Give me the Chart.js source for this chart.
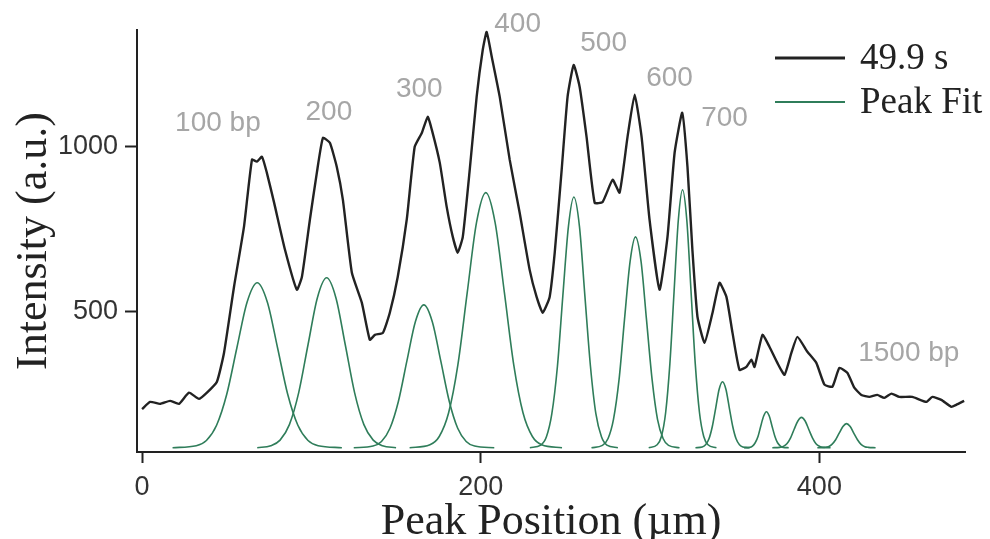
<!DOCTYPE html>
<html>
<head>
<meta charset="utf-8">
<script src="https://cdn.jsdelivr.net/npm/chart.js@4.4.1/dist/chart.umd.min.js"></script>
<style>
  html, body { margin: 0; padding: 0; background: #fff; }
  #wrap { width: 990px; height: 539px; }
</style>
</head>
<body>
<div id="wrap"><canvas id="chart" width="990" height="539"></canvas></div>
<script>
// measured trace, [position µm, intensity a.u.]
const signal = [
    [0, 205], [4.7, 227], [10.6, 221], [16.5, 230], [21.8, 221], [27.7, 255], [33.6, 236], [38.3, 255],
    [44.2, 288], [48.4, 376], [54.3, 576], [60.2, 758], [64.9, 961], [67.8, 955], [70.8, 970], [73.7, 921],
    [78, 830], [84.4, 688], [91.4, 567], [94.4, 606], [99.1, 779], [103.2, 921], [106.8, 1027], [110.9, 1012],
    [115, 939], [118.6, 839], [123.9, 618], [129.8, 527], [134.5, 415], [137.5, 430], [142.2, 436], [146.3, 497],
    [151, 606], [156.3, 779], [161, 1000], [165.2, 1042], [168.7, 1091], [171.1, 1052], [175.8, 952], [179.9, 818],
    [183.5, 727], [186.4, 679], [189.4, 727], [193.5, 930], [197.6, 1152], [201.2, 1294], [203.5, 1348], [206.5, 1273],
    [211.2, 1152], [217.1, 961], [223, 800], [228.9, 627], [233, 545], [236.6, 497], [240.7, 545], [243.7, 679],
    [247.8, 930], [251.3, 1152], [254.9, 1248], [258.4, 1182], [262.5, 1030], [267.3, 830], [272, 833], [277.9, 900],
    [282, 861], [286.7, 1030], [290.9, 1158], [295, 1030], [299.7, 779], [305.6, 567], [310.3, 727], [314.5, 982],
    [319, 1103], [322.1, 939], [325, 688], [328, 485], [332.2, 406], [336.9, 497], [341, 588], [345.1, 545],
    [348.7, 436], [352.8, 324], [356.9, 333], [359.9, 355], [361.7, 333], [366.4, 430], [370.5, 394], [375.2, 345],
    [379.4, 309], [383.5, 376], [387, 424], [392.9, 379], [398.2, 345], [403, 279], [407.7, 273], [411.8, 330],
    [416.5, 315], [420.6, 270], [424.8, 248], [429.5, 242], [434.2, 248], [438.3, 239], [442.5, 252], [447.2, 242],
    [454.9, 242], [463.1, 227], [466.7, 242], [472, 233], [477.9, 212], [480.8, 218], [485.5, 230]
];

// fitted peaks, one row per band
const fitX = [
    [18, 32, 38, 44, 50, 56, 62, 68, 74, 80, 86, 92, 98, 104, 118],
    [68, 76, 81.5, 87, 92.5, 98, 103.5, 109, 114.5, 120, 125.5, 131, 136.5, 142, 150],
    [125, 136.4, 141.4, 146.4, 151.4, 156.4, 161.4, 166.4, 171.4, 176.4, 181.4, 186.4, 191.4, 196.4, 208],
    [158, 170, 175.5, 181, 186.5, 192, 197.5, 203, 208.5, 214, 219.5, 225, 230.5, 236, 248],
    [229, 235.5, 238.8, 242, 245.3, 248.5, 251.8, 255, 258.3, 261.5, 264.8, 268, 271.3, 274.5, 281],
    [265.4, 271.9, 275.2, 278.4, 281.7, 284.9, 288.2, 291.4, 294.7, 297.9, 301.2, 304.4, 307.7, 310.9, 317.4],
    [299.2, 304.2, 306.7, 309.2, 311.7, 314.2, 316.7, 319.2, 321.7, 324.2, 326.7, 329.2, 331.7, 334.2, 339.2],
    [326.8, 330.8, 332.8, 334.8, 336.8, 338.8, 340.8, 342.8, 344.8, 346.8, 348.8, 350.8, 352.8, 354.8, 358.8],
    [355.5, 358.8, 360.5, 362.1, 363.8, 365.4, 367.1, 368.7, 370.4, 372, 373.7, 375.3, 377, 378.6, 381.9],
    [372.2, 376.5, 378.7, 380.8, 383, 385.1, 387.3, 389.4, 391.6, 393.7, 395.9, 398, 400.2, 402.3, 406.6],
    [398.8, 403.1, 405.3, 407.4, 409.6, 411.7, 413.9, 416, 418.2, 420.3, 422.5, 424.6, 426.8, 428.9, 433.2]
];
const fitY = [
    [88, 94, 110, 156, 250, 391, 529, 588, 529, 391, 250, 156, 110, 94, 88],
    [88, 94, 111, 158, 255, 400, 542, 603, 542, 400, 255, 158, 111, 94, 88],
    [88, 93, 107, 147, 229, 351, 470, 521, 470, 351, 229, 147, 107, 93, 88],
    [88, 97, 122, 193, 339, 557, 770, 861, 770, 557, 339, 193, 122, 97, 88],
    [88, 96, 121, 191, 335, 549, 759, 848, 759, 549, 335, 191, 121, 96, 88],
    [88, 95, 116, 174, 295, 476, 652, 727, 652, 476, 295, 174, 116, 95, 88],
    [88, 97, 122, 194, 342, 562, 778, 870, 778, 562, 342, 194, 122, 97, 88],
    [88, 90, 97, 115, 153, 209, 265, 288, 265, 209, 153, 115, 97, 90, 88],
    [88, 89, 93, 103, 123, 154, 184, 197, 184, 154, 123, 103, 93, 89, 88],
    [88, 89, 92, 100, 118, 144, 169, 180, 169, 144, 118, 100, 92, 89, 88],
    [88, 89, 91, 98, 112, 132, 152, 161, 152, 132, 112, 98, 91, 89, 88]
];

// band size labels and where they sit (data units)
const bandLabels = ['100 bp', '200', '300', '400', '500', '600', '700', '1500 bp'];
const bandLabelX = [44.8, 110.3, 163.7, 221.8, 272.6, 311.5, 344, 452.8];
const bandLabelY = [1070, 1106, 1173, 1370, 1315, 1209, 1085, 373];

const xTicks = [0, 200, 400];
const yTicks = [500, 1000];

const traceColor = '#222222';
const fitColor = '#2f7d5a';
const labelGray = '#a6a6a6';
const axisColor = '#222222';

function build_datasets() {
    const sets = [{
        label: '49.9 s',
        data: signal.map(p => ({ x: p[0], y: p[1] })),
        borderColor: traceColor,
        borderWidth: 2.4,
        pointRadius: 0,
        tension: 0.15
    }];
    fitX.forEach((xs, i) => {
        sets.push({
            label: i == 0 ? 'Peak Fit' : '',
            data: xs.map((x, j) => ({ x: x, y: fitY[i][j] })),
            borderColor: fitColor,
            borderWidth: 1.6,
            pointRadius: 0,
            cubicInterpolationMode: 'monotone'
        });
    });
    return sets;
}

const bandLabelPlugin = {
    id: 'bandLabels',
    afterDatasetsDraw(chart) {
        const ctx = chart.ctx;
        const xs = chart.scales.x;
        const ys = chart.scales.y;
        ctx.save();
        ctx.font = '28px "Liberation Sans", Arial, sans-serif';
        ctx.fillStyle = labelGray;
        ctx.textAlign = 'center';
        ctx.textBaseline = 'middle';
        bandLabels.forEach((t, i) => {
            ctx.fillText(t, xs.getPixelForValue(bandLabelX[i]), ys.getPixelForValue(bandLabelY[i]));
        });
        ctx.restore();
    }
};

// simple legend in the top right corner
const legendPlugin = {
    id: 'cornerLegend',
    afterDraw(chart) {
        const ctx = chart.ctx;
        const entries = [
            { text: chart.data.datasets[0].label, color: traceColor, width: 3, y: 58 },
            { text: chart.data.datasets[1].label, color: fitColor, width: 2.2, y: 102 }
        ];
        ctx.save();
        ctx.font = '37px "Liberation Serif", "Times New Roman", serif';
        ctx.textAlign = 'left';
        ctx.textBaseline = 'middle';
        for (const e of entries) {
            ctx.strokeStyle = e.color;
            ctx.lineWidth = e.width;
            ctx.beginPath();
            ctx.moveTo(775, e.y);
            ctx.lineTo(845, e.y);
            ctx.stroke();
            ctx.fillStyle = '#222';
            ctx.fillText(e.text, 860, e.y + 1);
        }
        ctx.restore();
    }
};

const ctx = document.getElementById('chart').getContext('2d');
new Chart(ctx, {
    type: 'line',
    data: { datasets: build_datasets() },
    options: {
        responsive: false,
        animation: false,
        layout: { padding: { top: 30, right: 25, left: 0, bottom: 0 } },
        plugins: {
            legend: { display: false },
            tooltip: { enabled: false }
        },
        scales: {
            x: {
                type: 'linear',
                min: -3,
                max: 486,
                afterFit: (scale) => { scale.height = 87; },
                afterBuildTicks: (scale) => { scale.ticks = xTicks.map(v => ({ value: v })); },
                grid: { drawOnChartArea: false, tickLength: 11, tickWidth: 2, tickColor: axisColor },
                border: { color: axisColor, width: 2 },
                ticks: {
                    padding: 8,
                    color: '#333',
                    maxRotation: 0,
                    callback: (v) => String(v),
                    font: { family: '"Liberation Sans", Arial, sans-serif', size: 27 }
                },
                title: {
                    display: true,
                    text: 'Peak Position (µm)',
                    color: '#222',
                    padding: { top: 0, bottom: 0 },
                    font: { family: '"Liberation Serif", "Times New Roman", serif', size: 44, lineHeight: 0.75 }
                }
            },
            y: {
                min: 75,
                max: 1354,
                afterFit: (scale) => { scale.width = 137; },
                afterBuildTicks: (scale) => { scale.ticks = yTicks.map(v => ({ value: v })); },
                grid: { drawOnChartArea: false, tickLength: 12, tickWidth: 2, tickColor: axisColor },
                border: { color: axisColor, width: 2 },
                ticks: {
                    padding: 7,
                    color: '#333',
                    callback: (v) => String(v),
                    font: { family: '"Liberation Sans", Arial, sans-serif', size: 27 }
                },
                title: {
                    display: true,
                    text: 'Intensity (a.u.)',
                    color: '#222',
                    padding: { top: 8, bottom: 0 },
                    font: { family: '"Liberation Serif", "Times New Roman", serif', size: 44, lineHeight: 1.2 }
                }
            }
        }
    },
    plugins: [bandLabelPlugin, legendPlugin]
});
</script>
</body>
</html>
